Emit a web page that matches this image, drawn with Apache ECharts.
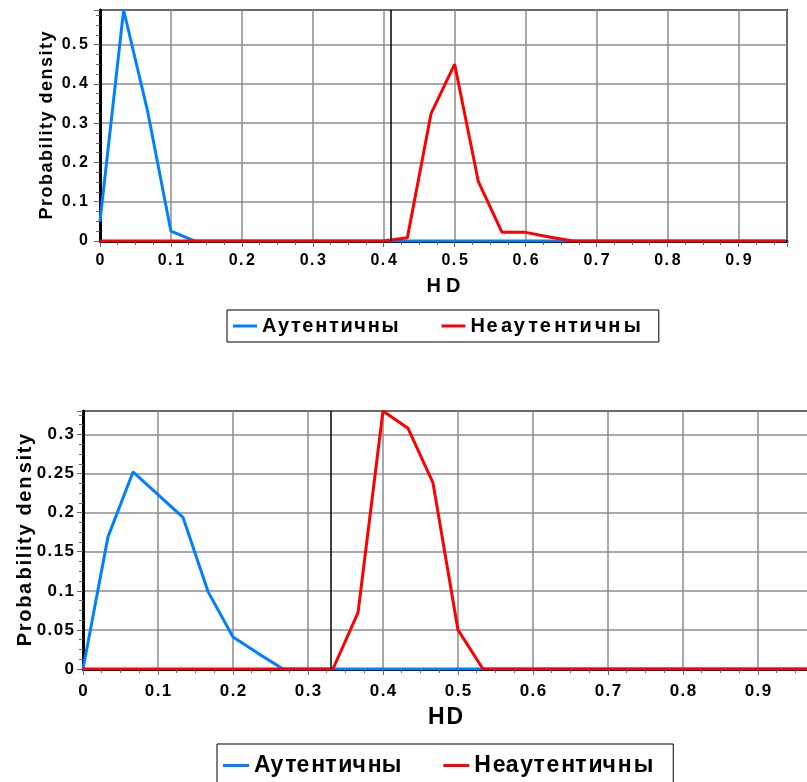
<!DOCTYPE html>
<html><head><meta charset="utf-8">
<script src="https://cdn.jsdelivr.net/npm/echarts@6/dist/echarts.min.js"></script>
<style>html,body{margin:0;padding:0;background:#fff}#c{width:807px;height:782px}</style>
</head><body><div id="c"></div>
<script>
// HD values (bins of 1/30)
const hd = [0, 0.0333, 0.0667, 0.1, 0.1333, 0.1667, 0.2, 0.2333, 0.2667, 0.3,
  0.3333, 0.3667, 0.4, 0.4333, 0.4667, 0.5, 0.5333, 0.5667, 0.6, 0.6333,
  0.6667, 0.7, 0.7333, 0.7667, 0.8, 0.8333, 0.8667, 0.9, 0.9333, 0.9667];
const seriesNames = ['Аутентичны', 'Неаутентичны'];
// Top chart
const topAuth = [0.05, 0.588, 0.334, 0.025, 0, 0, 0, 0, 0, 0, 0, 0, 0, 0, 0, 0, 0, 0, 0, 0, 0, 0, 0, 0, 0, 0, 0, 0, 0, 0];
const topFake = [0, 0, 0, 0, 0, 0, 0, 0, 0, 0, 0, 0, 0, 0.008, 0.324, 0.45, 0.152, 0.022, 0.022, 0.01, 0, 0, 0, 0, 0, 0, 0, 0, 0, 0];
const topThreshold = 0.415;
// Bottom chart
const botAuth = [0, 0.169, 0.252, 0.223, 0.194, 0.099, 0.041, 0.020, 0, 0, 0, 0, 0, 0, 0, 0, 0, 0, 0, 0, 0, 0, 0, 0, 0, 0, 0, 0, 0, 0];
const botFake = [0, 0, 0, 0, 0, 0, 0, 0, 0, 0, 0, 0.072, 0.33, 0.308, 0.238, 0.050, 0, 0, 0, 0, 0, 0, 0, 0, 0, 0, 0, 0, 0, 0];
const botThreshold = 0.3333;
const xTitle = 'HD';
const yTitle = 'Probability density';

const FONT = '"Liberation Sans", Arial, sans-serif';
const BLUE = '#0080ff', RED = '#ff0000';
const pairs = (ys) => hd.map((x, i) => [x, ys[i]]);

// letter-spacing emulation with narrow space characters
const mctx = document.createElement('canvas').getContext('2d');
function measure(t, px) { mctx.font = 'bold ' + px + 'px ' + FONT; return mctx.measureText(t).width; }
const SPACERS = ['\u200A', '\u2009', '\u2006', '\u2005', '\u2004'];
function spacerOptions(px) {
  const singles = [];
  for (const s of SPACERS) {
    const w = measure('a' + s + 'a', px) - measure('aa', px);
    if (w > 0.2) singles.push({s: s, w: w});
  }
  const opts = [{s: '', w: 0}].concat(singles);
  for (const a of singles) for (const b of singles) opts.push({s: a.s + b.s, w: a.w + b.w});
  return opts;
}
function spacedGap(text, px, gap) {
  if (text.length < 2 || gap <= 0) return text;
  const opts = spacerOptions(px);
  let acc = 0, out = text[0];
  for (let i = 1; i < text.length; i++) {
    const want = gap * i;
    let best = opts[0], err = Infinity;
    for (const o of opts) { const e = Math.abs(acc + o.w - want); if (e < err) { err = e; best = o; } }
    acc += best.w; out += best.s + text[i];
  }
  return out;
}
function spacedWidth(text, px, target) {
  return spacedGap(text, px, (target - measure(text, px)) / (text.length - 1));
}

function xAxis(gi, max, gap, nfs, nw, fs, margin, gapPx) {
  return {
    type: 'value', gridIndex: gi, min: 0, max: max, interval: 0.1,
    name: spacedWidth(xTitle, nfs, nw), nameLocation: 'middle', nameGap: gap, nameMoveOverlap: false,
    nameTextStyle: {fontFamily: FONT, fontWeight: 'bold', fontSize: nfs, color: '#000'},
    axisLine: {show: true, onZero: false, lineStyle: {color: '#000', width: 3}},
    axisTick: {show: true, length: 6, lineStyle: {color: '#666', width: 1}},
    minorTick: {show: true, splitNumber: 4, length: 4, lineStyle: {color: '#666', width: 1}},
    splitLine: {show: true, lineStyle: {color: '#8c8c8c', width: 1.5}},
    axisLabel: {showMaxLabel: false, fontFamily: FONT, fontWeight: 'bold', fontSize: fs, color: '#000', margin: margin,
      formatter: v => spacedGap(v === 0 ? '0' : String(+v.toFixed(2)), fs, gapPx)}
  };
}
function yAxis(gi, max, interval, gap, nfs, nWidth, fs, margin, gapPx) {
  return {
    type: 'value', gridIndex: gi, min: 0, max: max, interval: interval,
    name: spacedWidth(yTitle, nfs, nWidth), nameLocation: 'middle', nameGap: gap, nameRotate: 90, nameMoveOverlap: false,
    nameTextStyle: {fontFamily: FONT, fontWeight: 'bold', fontSize: nfs, color: '#000'},
    axisLine: {show: true, lineStyle: {color: '#000', width: 3}},
    axisTick: {show: true, length: 6, lineStyle: {color: '#666', width: 1}},
    minorTick: {show: true, splitNumber: 4, length: 4, lineStyle: {color: '#666', width: 1}},
    splitLine: {show: true, lineStyle: {color: '#8c8c8c', width: 1.5}},
    axisLabel: {showMaxLabel: false, fontFamily: FONT, fontWeight: 'bold', fontSize: fs, color: '#000', margin: margin,
      formatter: v => spacedGap(v === 0 ? '0' : String(+v.toFixed(3)), fs, gapPx)}
  };
}
function line(name, gi, ys, color, thr) {
  const s = {
    name: name, type: 'line', xAxisIndex: gi, yAxisIndex: gi, data: pairs(ys),
    showSymbol: false, symbol: 'none', lineStyle: {color: color, width: 3}, itemStyle: {color: color},
    animation: false, clip: true
  };
  if (thr !== undefined) {
    s.markLine = {silent: true, symbol: 'none', label: {show: false},
      lineStyle: {color: '#000', width: 1.5, type: 'solid'}, data: [{xAxis: thr}]};
  }
  return s;
}
function legend(left, top, fs, pad, gap, iw, widths) {
  return {
    left: left, top: top, orient: 'horizontal', data: seriesNames,
    icon: 'rect', itemWidth: iw, itemHeight: 3, itemGap: gap,
    padding: pad, borderColor: '#000', borderWidth: 1, borderRadius: 0,
    formatter: name => spacedWidth(name, fs, widths[seriesNames.indexOf(name)]),
    textStyle: {fontFamily: FONT, fontWeight: 'bold', fontSize: fs, color: '#000'},
    selectedMode: false
  };
}

const chart = echarts.init(document.getElementById('c'), null, {renderer: 'canvas'});
chart.setOption({
  animation: false,
  backgroundColor: '#fff',
  grid: [
    {left: 100, top: 10, width: 687, height: 231, outerBoundsMode: 'none', containLabel: false,
      show: true, borderColor: '#000', borderWidth: 2, backgroundColor: 'transparent'},
    {left: 83, top: 411, width: 725, height: 258, outerBoundsMode: 'none', containLabel: false,
      show: true, borderColor: '#000', borderWidth: 2, backgroundColor: 'transparent'}
  ],
  xAxis: [xAxis(0, 0.9685, 35, 20, 34, 16, 12, 2), xAxis(1, 0.9667, 37, 23, 35.7, 17, 14, 1.5)],
  yAxis: [yAxis(0, 0.588, 0.1, 44, 18, 188, 16, 12, 2), yAxis(1, 0.33, 0.05, 48, 20, 212, 17, 9, 1.3)],
  legend: [legend(227, 310, 20, [6, 18, 6, 6], 43, 24, [136, 170]), legend(217, 744, 23, [10, 20, 8, 6], 42, 26, [148, 178])],
  series: [
    line(seriesNames[0], 0, topAuth, BLUE),
    line(seriesNames[1], 0, topFake, RED, topThreshold),
    line(seriesNames[0], 1, botAuth, BLUE),
    line(seriesNames[1], 1, botFake, RED, botThreshold)
  ]
});
</script></body></html>
